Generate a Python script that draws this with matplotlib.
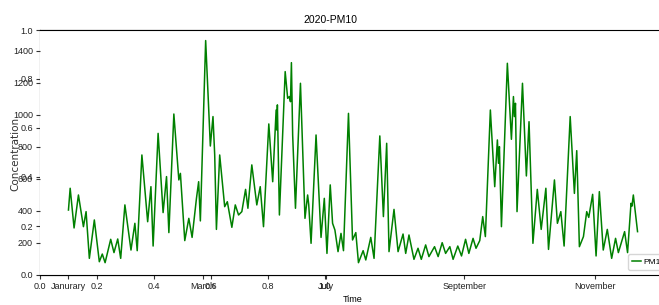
import matplotlib
matplotlib.use("Agg")
import matplotlib.pyplot as plt

# tick text in the screenshot is narrow, Liberation Sans is the closest we have
narrow = "Liberation Sans"

##### data (day of year, PM10 concentration) #####
days = [0, 1.1, 3.6, 6.4, 9.6, 11.3, 13.4, 16.6, 19.8, 21.7, 23.5, 27.1, 29.2, 31.6,
        33.5, 36.2, 40.1, 42.6, 44.1, 47.1, 50.8, 52.9, 54.3, 57.5, 60.7, 62.9, 64.4,
        67.6, 70.8, 71.8, 74.6, 77.2, 79.3, 82.1, 83.5, 84.6, 88.0, 91.0, 92.7, 93.8,
        94.9, 97.0, 100.2, 101.9, 104.8, 107.0, 109.1, 111.2, 113.6, 115.1, 117.6,
        120.8, 123.0, 125.1, 128.5, 131.0, 133.2, 133.6, 134.0, 135.3, 139.0, 140.6,
        141.7, 142.4, 143.0, 143.8, 145.6, 148.8, 151.7, 153.4, 154.1, 155.6, 158.8,
        162.0, 164.1, 165.8, 167.9, 169.4, 170.9, 172.9, 174.8, 176.4, 179.6, 182.2,
        184.3, 186.0, 189.0, 190.7, 193.9, 196.0, 199.7, 202.0, 204.1, 205.6, 208.8,
        211.4, 214.6, 216.3, 218.4, 221.6, 224.2, 226.3, 229.1, 231.2, 234.8, 237.1,
        239.7, 241.9, 244.6, 246.7, 249.7, 252.1, 254.7, 256.8, 259.5, 261.4, 263.8,
        265.7, 267.4, 270.6, 273.4, 275.1, 275.8, 276.4, 277.7, 281.5, 284.1, 285.4,
        286.0, 286.7, 287.7, 291.2, 293.7, 295.4, 297.9, 300.7, 303.2, 306.2, 307.9,
        311.7, 313.6, 315.8, 317.9, 321.8, 324.5, 326.0, 327.7, 330.3, 332.4, 333.7,
        336.2, 338.4, 340.5, 343.0, 345.6, 348.4, 350.9, 352.7, 356.7, 358.6, 360.8,
        361.4, 362.3, 365.0]
pm10 = [406, 542, 294, 500, 302, 396, 104, 344, 83, 131, 77, 223, 140, 225,
        104, 438, 156, 323, 152, 750, 333, 552, 181, 885, 390, 615, 265,
        1006, 594, 635, 215, 354, 235, 479, 583, 338, 1465, 806, 990, 750,
        285, 750, 427, 458, 298, 438, 375, 396, 535, 417, 688,
        438, 552, 302, 944, 583, 1031, 906, 1063, 375, 1271, 1104,
        1115, 1083, 1327, 875, 417, 1198, 354, 500, 440, 198, 875,
        235, 479, 135, 563, 323, 281, 146, 260, 152, 1010, 219,
        265, 77, 152, 94, 235, 104, 869, 365, 823, 146, 410,
        146, 256, 135, 250, 98, 167, 98, 188, 115, 177, 115,
        202, 135, 177, 98, 181, 119, 223, 135, 229, 167, 215,
        365, 240, 1031, 552, 844, 698, 802, 302, 1323, 848, 1115,
        990, 1073, 396, 1198, 619, 958, 198, 535, 285, 542, 160,
        594, 323, 396, 181, 990, 510, 777, 177, 240, 396, 360,
        504, 119, 521, 156, 285, 104, 229, 140, 271, 140, 448,
        430, 500, 271]

month_ticks = [0, 86, 165, 254, 338]
month_labels = ["Janurary", "March", "July", "September", "November"]
conc_ticks = [200, 400, 600, 800, 1000, 1200, 1400]

W, H = 659, 305
fig = plt.figure(figsize=(W / 100, H / 100), dpi=100)

# leftover empty 0..1 axes sitting underneath
ax0 = fig.add_axes([40 / W, 30 / H, 285 / W, 245 / H])
ax0.tick_params(labelsize=6.5, length=3, pad=2, color="#333333", labelcolor="#222222")
for lab in ax0.get_xticklabels() + ax0.get_yticklabels():
    lab.set_family(narrow)

# the real plot on top, wider than the picture
ax = fig.add_axes([40 / W, 30 / H, 626 / W, 245 / H])
ax.set_facecolor("white")
ax.plot(days, pm10, color="green", linewidth=1.1, label="PM10")
ax.set_ylim(0, 1531)
ax.set_xticks(month_ticks)
ax.set_xticklabels(month_labels)
ax.set_yticks(conc_ticks)
ax.tick_params(labelsize=6.5, length=3, pad=2, color="#333333", labelcolor="#222222")
for lab in ax.get_xticklabels() + ax.get_yticklabels():
    lab.set_family(narrow)
ax.spines["left"].set_visible(False)
ax.set_xlabel("Time", fontsize=6.5, family=narrow, labelpad=3)
ax.set_title("2020-PM10", fontsize=7.5, family=narrow, x=(330 - 40) / 626, pad=5)

fig.text(15 / W, 1 - 154 / H, "Concentration", rotation=90, fontsize=7.5,
         ha="center", va="center", color="#333333")

fig.legend(loc="lower left", bbox_to_anchor=(628 / W, 35 / H), borderaxespad=0,
           handlelength=1.0, handletextpad=0.3, borderpad=0.5,
           prop={"family": narrow, "size": 6})

fig.savefig("out.png", dpi=100)
